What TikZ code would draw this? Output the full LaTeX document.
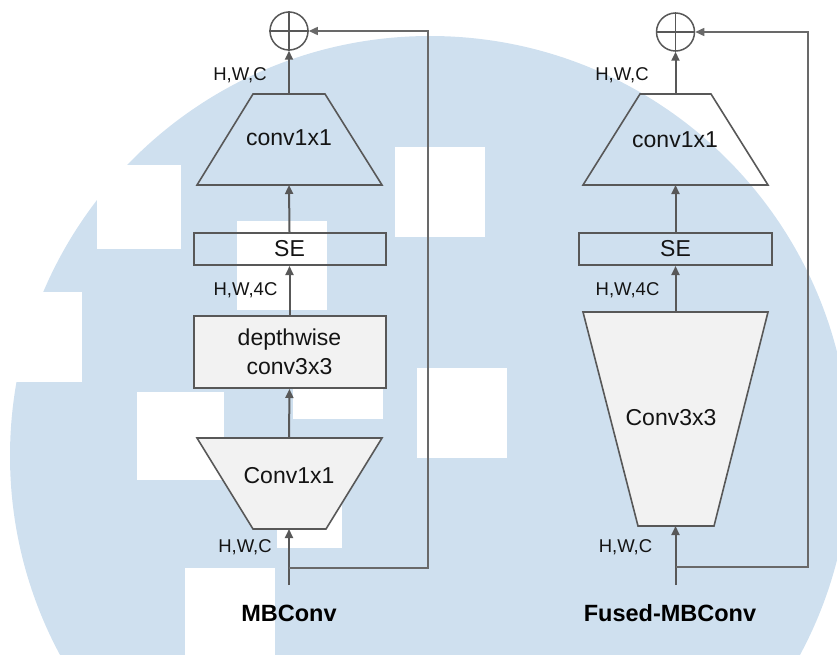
\documentclass[tikz,border=0pt]{standalone}
\usepackage{fontspec}
\setmainfont{Liberation Sans}
\usetikzlibrary{arrows.meta}
\definecolor{bgblue}{RGB}{207,224,239}
\definecolor{boxgray}{RGB}{242,242,242}
\definecolor{linegray}{RGB}{88,88,88}
\definecolor{skipgray}{RGB}{105,105,105}
\definecolor{txt}{RGB}{20,20,20}
\begin{document}
\begin{tikzpicture}[x=1pt,y=-1pt,
  box/.style={draw=linegray, line width=2pt, inner sep=0pt, text=txt,
    font=\fontsize{23}{29}\selectfont, align=center},
  trap/.style={draw=linegray, line width=1.6pt, line join=miter},
  lbl/.style={text=txt, font=\fontsize{18.5}{20}\selectfont, inner sep=0pt},
  ttl/.style={text=black, font=\fontsize{23.5}{26}\selectfont\bfseries, inner sep=0pt},
  main/.style={text=txt, font=\fontsize{23}{29}\selectfont, inner sep=0pt, align=center},
  arr/.style={draw=linegray, line width=2pt, -{Triangle[length=9pt,width=8pt]}},
  skip/.style={draw=skipgray, line width=1.4pt},
  skiparr/.style={draw=skipgray, line width=1.4pt, -{Triangle[length=9pt,width=8pt]}},
  addc/.style={circle, draw=linegray, line width=1.5pt, minimum size=38pt, inner sep=0pt}]
\useasboundingbox (0,0) rectangle (837,655);
% background
\begin{scope}
  \clip (0,0) rectangle (837,655);
  \fill[bgblue] (430,456) circle[radius=420];
  \fill[white] (97,165) rectangle (181,249);
  \fill[white] (0,292) rectangle (82,382);
  \fill[white] (137,392) rectangle (224,480);
  \fill[white] (185,568) rectangle (275,655);
  \fill[white] (237,221) rectangle (327,310);
  \fill[white] (293,340) rectangle (383,419);
  \fill[white] (277,500) rectangle (342,548);
  \fill[white] (395,147) rectangle (485,237);
  \fill[white] (417,368) rectangle (507,458);
\end{scope}

% ================= MBConv (left) =================
\node[addc] (plusA) at (289,31) {};
\draw[linegray, line width=1.5pt] (plusA.north) -- (plusA.south) (plusA.west) -- (plusA.east);
% top trapezoid conv1x1
\draw[trap] (253,94) -- (325,94) -- (382,185) -- (197,185) -- cycle;
\coordinate (tAtop) at (289,94);
\coordinate (tAbot) at (289,185);
\node[main] (tA) at (289,138) {conv1x1};
% SE
\node[box, minimum width=192pt, minimum height=32pt] (seA) at (289.5,249) {SE};
% depthwise
\node[box, fill=boxgray, minimum width=192pt, minimum height=72pt] (dwA) at (289.5,352) {depthwise\\conv3x3};
% bottom trapezoid Conv1x1
\draw[trap, fill=boxgray] (197,438) -- (382,438) -- (326,529) -- (253,529) -- cycle;
\coordinate (bAtop) at (289,438);
\coordinate (bAbot) at (289,529);
\node[main] (bA) at (289,476) {Conv1x1};
% labels
\node[lbl] (l1A) at (240,75) {H,W,C};
\node[lbl] (l2A) at (245.5,290) {H,W,4C};
\node[lbl] (l3A) at (245,547) {H,W,C};
\node[ttl] (titA) at (289,613) {MBConv};
% connectors
\coordinate (inA) at (289,585);
\coordinate (splitA) at (289,568);
\coordinate (cA1) at (428,568);
\coordinate (cA2) at (428,31);
\draw[arr] (inA) -- (bAbot);
\draw[arr] (bAtop) -- (dwA.south);
\draw[arr] (dwA.north) -- (seA.south);
\draw[arr] (seA.north) -- (tAbot);
\draw[arr] (tAtop) -- (plusA);
\draw[skiparr] (splitA) -- (cA1) -- (cA2) -- (plusA);

% ================= Fused-MBConv (right) =================
\node[addc] (plusB) at (675.5,32) {};
\draw[linegray, line width=1.5pt] (plusB.north) -- (plusB.south) (plusB.west) -- (plusB.east);
\draw[trap] (640,94) -- (711,94) -- (768,185) -- (583,185) -- cycle;
\coordinate (tBtop) at (675.5,94);
\coordinate (tBbot) at (675.5,185);
\node[main] (tB) at (675,140) {conv1x1};
\node[box, minimum width=193pt, minimum height=32pt] (seB) at (675.5,249) {SE};
\draw[trap, fill=boxgray] (583,312) -- (768,312) -- (714,526) -- (638,526) -- cycle;
\coordinate (cBtop) at (675.5,312);
\coordinate (cBbot) at (675.5,526);
\node[main] (cB) at (671,418) {Conv3x3};
\node[lbl] (l1B) at (622,75) {H,W,C};
\node[lbl] (l2B) at (627.5,290) {H,W,4C};
\node[lbl] (l3B) at (625.5,547) {H,W,C};
\node[ttl] (titB) at (670,613) {Fused-MBConv};
\coordinate (inB) at (675.5,585);
\coordinate (splitB) at (675.5,567);
\coordinate (cB1) at (808,567);
\coordinate (cB2) at (808,32);
\draw[arr] (inB) -- (cBbot);
\draw[arr] (cBtop) -- (seB.south);
\draw[arr] (seB.north) -- (tBbot);
\draw[arr] (tBtop) -- (plusB);
\draw[skiparr] (splitB) -- (cB1) -- (cB2) -- (plusB);
\end{tikzpicture}
\end{document}
